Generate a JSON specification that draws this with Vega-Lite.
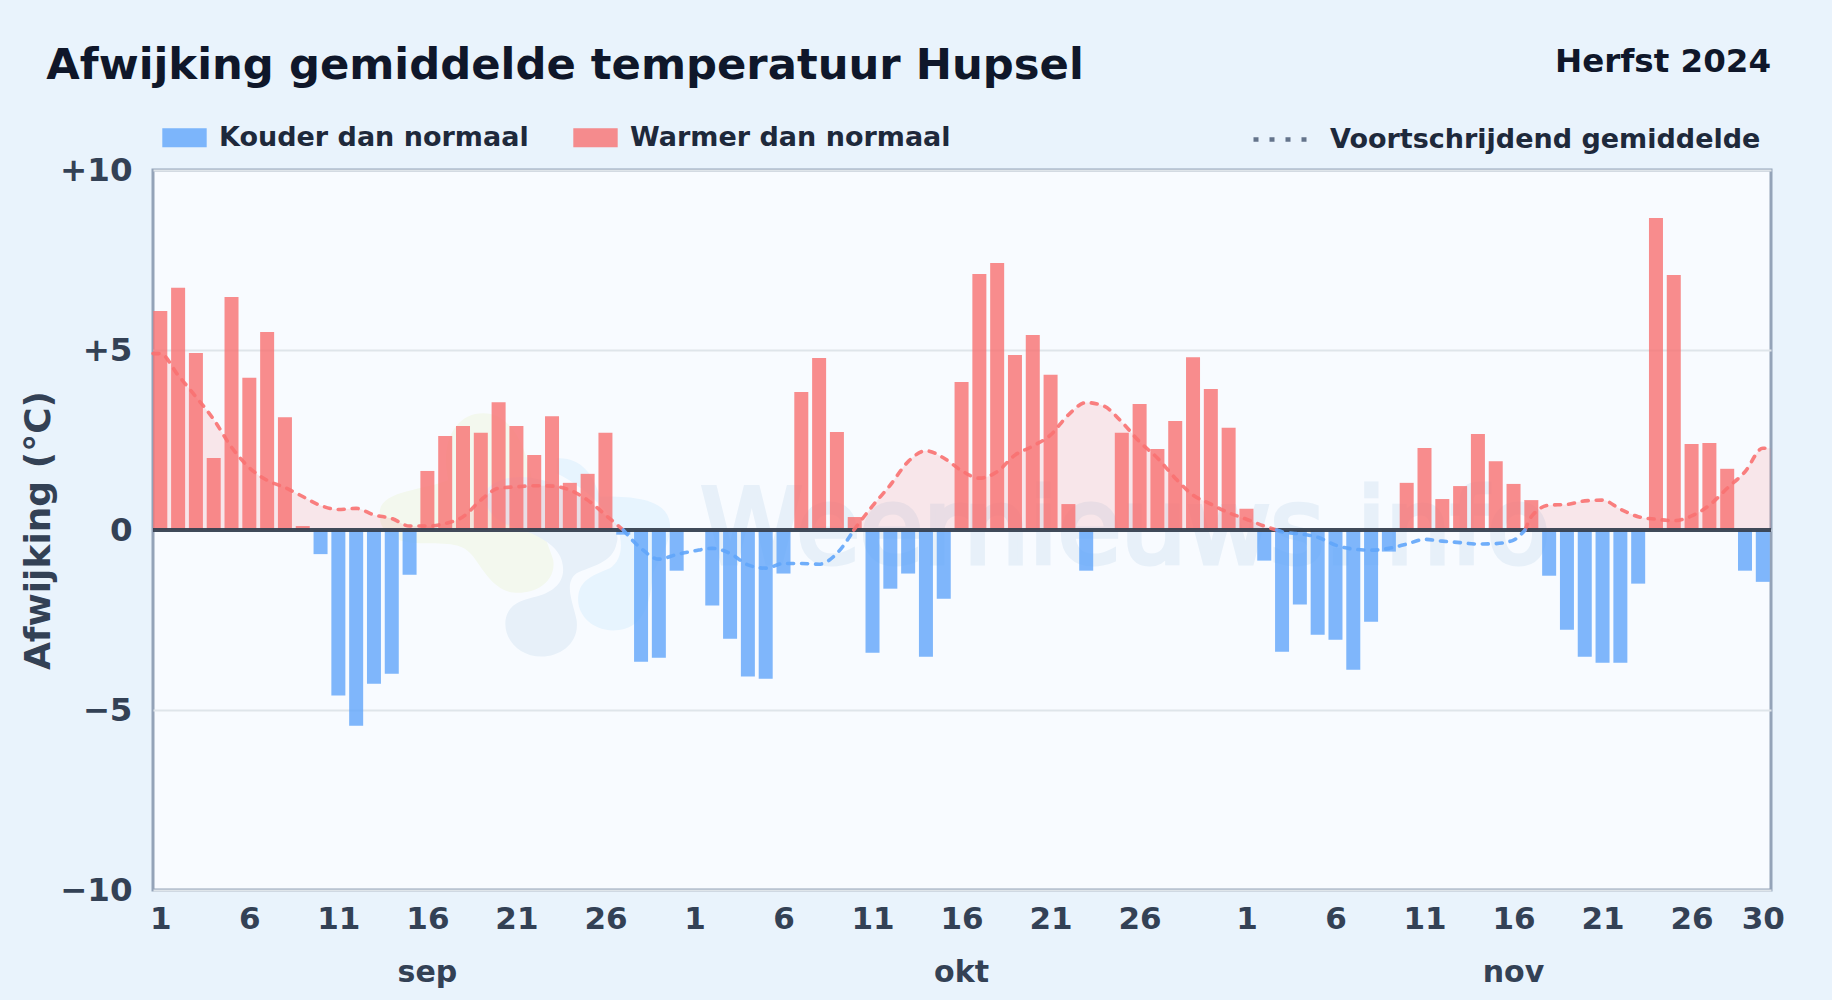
{
"$schema":"https://vega.github.io/schema/vega-lite/v6.json",
"autosize":{"type":"none"},
"padding":{"left":153,"top":170,"right":61,"bottom":110},
"width":1618,"height":720,
"background":"#e9f3fc",
"config":{"view":{"fill":"#f8fbff","stroke":"#94a3b8","strokeWidth":3},"font":"DejaVu Sans"},
"datasets":{
"bars":[
{"i":0,"v":6.08},{"i":1,"v":6.73},{"i":2,"v":4.92},{"i":3,"v":2.0},{"i":4,"v":6.47},{"i":5,"v":4.23},{"i":6,"v":5.5},{"i":7,"v":3.13},{"i":8,"v":0.11},{"i":9,"v":-0.67},
{"i":10,"v":-4.6},{"i":11,"v":-5.44},{"i":12,"v":-4.27},{"i":13,"v":-3.99},{"i":14,"v":-1.24},{"i":15,"v":1.64},{"i":16,"v":2.61},{"i":17,"v":2.89},{"i":18,"v":2.7},{"i":19,"v":3.55},
{"i":20,"v":2.89},{"i":21,"v":2.08},{"i":22,"v":3.16},{"i":23,"v":1.31},{"i":24,"v":1.56},{"i":25,"v":2.7},{"i":26,"v":-0.13},{"i":27,"v":-3.66},{"i":28,"v":-3.55},{"i":29,"v":-1.13},
{"i":31,"v":-2.1},{"i":32,"v":-3.02},{"i":33,"v":-4.07},{"i":34,"v":-4.13},{"i":35,"v":-1.21},{"i":36,"v":3.83},{"i":37,"v":4.78},{"i":38,"v":2.72},{"i":39,"v":0.36},
{"i":40,"v":-3.41},{"i":41,"v":-1.63},{"i":42,"v":-1.21},{"i":43,"v":-3.52},{"i":44,"v":-1.91},{"i":45,"v":4.11},{"i":46,"v":7.11},{"i":47,"v":7.42},{"i":48,"v":4.86},{"i":49,"v":5.42},
{"i":50,"v":4.31},{"i":51,"v":0.72},{"i":52,"v":-1.13},{"i":54,"v":2.7},{"i":55,"v":3.5},{"i":56,"v":2.25},{"i":57,"v":3.03},{"i":58,"v":4.8},{"i":59,"v":3.92},
{"i":60,"v":2.84},{"i":61,"v":0.59},{"i":62,"v":-0.85},{"i":63,"v":-3.38},{"i":64,"v":-2.07},{"i":65,"v":-2.91},{"i":66,"v":-3.05},{"i":67,"v":-3.88},{"i":68,"v":-2.55},{"i":69,"v":-0.6},
{"i":70,"v":1.31},{"i":71,"v":2.28},{"i":72,"v":0.86},{"i":73,"v":1.22},{"i":74,"v":2.67},{"i":75,"v":1.91},{"i":76,"v":1.28},{"i":77,"v":0.83},{"i":78,"v":-1.27},{"i":79,"v":-2.77},
{"i":80,"v":-3.52},{"i":81,"v":-3.69},{"i":82,"v":-3.69},{"i":83,"v":-1.49},{"i":84,"v":8.67},{"i":85,"v":7.08},{"i":86,"v":2.39},{"i":87,"v":2.42},{"i":88,"v":1.7},{"i":89,"v":-1.13},{"i":90,"v":-1.44}
],
"warm":[
{"x":-0.41,"y":4.9,"run":"A"},{"x":0,"y":4.9,"run":"A"},{"x":1,"y":4.3,"run":"A"},{"x":2,"y":3.7,"run":"A"},{"x":3,"y":3.07,"run":"A"},{"x":4,"y":2.3,"run":"A"},{"x":5,"y":1.73,"run":"A"},{"x":6,"y":1.38,"run":"A"},{"x":7,"y":1.18,"run":"A"},{"x":8,"y":0.93,"run":"A"},{"x":9,"y":0.68,"run":"A"},{"x":10,"y":0.57,"run":"A"},{"x":11,"y":0.6,"run":"A"},{"x":12,"y":0.42,"run":"A"},{"x":13,"y":0.32,"run":"A"},{"x":14,"y":0.11,"run":"A"},{"x":15,"y":0.11,"run":"A"},{"x":16,"y":0.18,"run":"A"},{"x":17,"y":0.37,"run":"A"},{"x":18,"y":0.83,"run":"A"},{"x":19,"y":1.16,"run":"A"},{"x":20,"y":1.2,"run":"A"},{"x":21,"y":1.23,"run":"A"},{"x":22,"y":1.22,"run":"A"},{"x":23,"y":1.11,"run":"A"},{"x":24,"y":0.83,"run":"A"},{"x":25,"y":0.42,"run":"A"},{"x":26,"y":0,"run":"A"},
{"x":38.95,"y":0,"run":"C"},{"x":40,"y":0.67,"run":"C"},{"x":41,"y":1.25,"run":"C"},{"x":42,"y":1.9,"run":"C"},{"x":43,"y":2.2,"run":"C"},{"x":44,"y":2.0,"run":"C"},{"x":45,"y":1.65,"run":"C"},{"x":46,"y":1.44,"run":"C"},{"x":47,"y":1.62,"run":"C"},{"x":48,"y":2.08,"run":"C"},{"x":49,"y":2.33,"run":"C"},{"x":50,"y":2.64,"run":"C"},{"x":51,"y":3.2,"run":"C"},{"x":52,"y":3.54,"run":"C"},{"x":53,"y":3.44,"run":"C"},{"x":54,"y":3.0,"run":"C"},{"x":55,"y":2.45,"run":"C"},{"x":56,"y":2.0,"run":"C"},{"x":57,"y":1.44,"run":"C"},{"x":58,"y":0.97,"run":"C"},{"x":59,"y":0.72,"run":"C"},{"x":60,"y":0.48,"run":"C"},{"x":61,"y":0.3,"run":"C"},{"x":62,"y":0.11,"run":"C"},{"x":62.7,"y":0,"run":"C"},
{"x":76.65,"y":0,"run":"E"},{"x":77,"y":0.37,"run":"E"},{"x":78,"y":0.69,"run":"E"},{"x":79,"y":0.71,"run":"E"},{"x":80,"y":0.81,"run":"E"},{"x":81,"y":0.83,"run":"E"},{"x":82,"y":0.58,"run":"E"},{"x":83,"y":0.37,"run":"E"},{"x":84,"y":0.3,"run":"E"},{"x":85,"y":0.26,"run":"E"},{"x":86,"y":0.39,"run":"E"},{"x":87,"y":0.69,"run":"E"},{"x":88,"y":1.16,"run":"E"},{"x":89,"y":1.62,"run":"E"},{"x":90,"y":2.27,"run":"E"},{"x":90.46,"y":2.27,"run":"E"}
],
"koud":[
{"x":26,"y":0,"run":"B"},{"x":27,"y":-0.51,"run":"B"},{"x":28,"y":-0.81,"run":"B"},{"x":29,"y":-0.68,"run":"B"},{"x":30,"y":-0.58,"run":"B"},{"x":31,"y":-0.51,"run":"B"},{"x":32,"y":-0.65,"run":"B"},{"x":33,"y":-0.97,"run":"B"},{"x":34,"y":-1.06,"run":"B"},{"x":35,"y":-0.93,"run":"B"},{"x":36,"y":-0.93,"run":"B"},{"x":37,"y":-0.95,"run":"B"},{"x":38,"y":-0.65,"run":"B"},{"x":38.95,"y":0,"run":"B"},
{"x":62.7,"y":0,"run":"D"},{"x":63,"y":-0.05,"run":"D"},{"x":64,"y":-0.11,"run":"D"},{"x":65,"y":-0.2,"run":"D"},{"x":66,"y":-0.42,"run":"D"},{"x":67,"y":-0.53,"run":"D"},{"x":68,"y":-0.56,"run":"D"},{"x":69,"y":-0.51,"run":"D"},{"x":70,"y":-0.39,"run":"D"},{"x":71,"y":-0.26,"run":"D"},{"x":72,"y":-0.31,"run":"D"},{"x":73,"y":-0.35,"run":"D"},{"x":74,"y":-0.39,"run":"D"},{"x":75,"y":-0.38,"run":"D"},{"x":76,"y":-0.28,"run":"D"},{"x":76.65,"y":0,"run":"D"}
]
},
"encoding":{
"x":{"field":"x","type":"quantitative","title":null,"scale":{"domain":[-0.41,90.46],"nice":false,"zero":false,"padding":0},
 "axis":{"values":[0,5,10,15,20,25,30,35,40,45,50,55,61,66,71,76,81,86,90],"labelExpr":"datum.value<30?datum.value+1:(datum.value<61?datum.value-29:datum.value-60)","domain":false,"ticks":false,"grid":false,"labelFont":"DejaVu Sans","labelFontSize":31,"labelFontWeight":"bold","labelColor":"#334155","labelPadding":14,"labelOverlap":false,"labelFlush":false,"labelBound":false}},
"y":{"field":"y","type":"quantitative","title":"Afwijking (°C)","scale":{"domain":[-10,10],"nice":false},
 "axis":{"values":[-10,-5,0,5,10],"labelExpr":"datum.value>0?'+'+datum.value:(datum.value<0?'−'+abs(datum.value):'0')","domain":false,"ticks":false,"grid":true,"gridColor":"#dfe5ea","gridWidth":2,"labelFont":"DejaVu Sans","labelFontSize":32.5,"labelFontWeight":"bold","labelColor":"#334155","labelPadding":21,"titleFont":"DejaVu Sans","titleFontSize":36,"titleFontWeight":"bold","titleColor":"#334155","titleX":-96,"titleY":360,"labelOverlap":false,"labelBound":false}}
},
"layer":[
{"data":{"values":[{"x":20.57,"y":-0.09}]},"mark":{"type":"point","filled":true,"size":111111,"opacity":1,"color":"#f3f8ee","shape":"M-.88,-.14 C-.86,-.26 -.6,-.26 -.47,-.32 C-.52,-.56 -.42,-.72 -.26,-.72 C-.1,-.72 0,-.54 .04,-.28 C.04,-.14 .12,.04 .16,.16 C.18,.3 .04,.37 -.08,.356 C-.2,.34 -.26,.22 -.32,.14 C-.38,.06 -.46,.06 -.64,.06 C-.78,.06 -.9,0 -.88,-.14 Z"}},
{"data":{"values":[{"x":20.57,"y":-0.09}]},"mark":{"type":"point","filled":true,"size":111111,"opacity":1,"color":"#e7f4fe","shape":"M.18,-.45 C.32,-.46 .4,-.36 .44,-.22 C.6,-.22 .84,-.22 .86,-.06 C.87,.06 .8,.14 .76,.24 C.74,.4 .72,.58 .52,.584 C.38,.58 .3,.48 .31,.38 C.32,.28 .4,.25 .5,.21 C.58,.16 .58,.04 .54,-.04 C.44,-.2 .3,-.3 .18,-.36 Z"}},
{"data":{"values":[{"x":20.57,"y":-0.09}]},"mark":{"type":"point","filled":true,"size":111111,"opacity":1,"color":"#e7f0f9","shape":"M-.24,-.26 C-.16,-.36 .04,-.36 .2,-.28 C.4,-.2 .58,-.04 .54,.06 C.52,.18 .38,.2 .3,.24 C.22,.3 .28,.42 .3,.52 C.32,.66 .2,.74 .09,.74 C-.04,.74 -.14,.64 -.126,.52 C-.11,.42 -.02,.4 .06,.38 C.2,.34 .24,.26 .21,.16 C.18,.06 .04,0 -.08,-.04 C-.18,-.06 -.28,-.16 -.24,-.26 Z"}},
{"data":{"values":[{"x":54.2,"y":-0.92,"t":"Weernieuws.info"}]},"mark":{"type":"text","font":"DejaVu Sans","fontSize":103,"align":"center","baseline":"alphabetic","color":"#e7f0f9","stroke":"#e7f0f9","strokeWidth":5},"encoding":{"text":{"field":"t"}}},
{"data":{"name":"warm"},"mark":{"type":"area","interpolate":"monotone","color":"#f87171","opacity":0.15},"encoding":{"detail":{"field":"run"},"y2":{"datum":0}}},
{"data":{"name":"bars"},"transform":[{"calculate":"datum.v<0?'Kouder dan normaal':'Warmer dan normaal'","as":"soort"}],"mark":{"type":"bar","orient":"vertical","size":14,"opacity":0.8},
 "encoding":{"x":{"field":"i","type":"quantitative","scale":{"domain":[-0.41,90.46],"nice":false,"zero":false,"padding":0}},"y":{"field":"v","type":"quantitative"},
 "color":{"field":"soort","type":"nominal","scale":{"domain":["Kouder dan normaal","Warmer dan normaal"],"range":["#60a5fa","#f87171"]},
  "legend":{"title":null,"orient":"none","direction":"horizontal","legendX":9,"legendY":-55,"padding":0,"symbolType":"M-1,-.43H1V.43H-1Z","symbolSize":1971,"symbolOpacity":0.8,"symbolStrokeWidth":0,"labelFont":"DejaVu Sans","labelFontSize":27,"labelFontWeight":"bold","labelColor":"#1e293b","labelOffset":12,"labelLimit":600,"columnPadding":44}}}},
{"data":{"values":[{"x":-0.41,"xe":90.46,"y":0}]},"mark":{"type":"rule","color":"#374151","strokeWidth":4,"opacity":0.95},"encoding":{"x2":{"field":"xe"}}},
{"data":{"name":"warm"},"mark":{"type":"line","interpolate":"monotone","color":"#f87171","strokeWidth":3.6,"strokeDash":[6,8],"strokeCap":"round","opacity":0.9},"encoding":{"detail":{"field":"run"}}},
{"data":{"name":"koud"},"mark":{"type":"line","interpolate":"monotone","color":"#60a5fa","strokeWidth":3.6,"strokeDash":[6,8],"strokeCap":"round","opacity":0.9},"encoding":{"detail":{"field":"run"}}},
{"data":{"values":[{"x":0,"y":0,"n":"Voortschrijdend gemiddelde"}]},"mark":{"type":"line"},
 "encoding":{"strokeDash":{"field":"n","type":"nominal","scale":{"domain":["Voortschrijdend gemiddelde"],"range":[[5,11]]},
  "legend":{"title":null,"orient":"none","direction":"horizontal","legendX":1098,"legendY":-60,"padding":0,"symbolType":"stroke","symbolSize":2916,"symbolStrokeColor":"#64748b","symbolStrokeWidth":4.5,"labelFont":"DejaVu Sans","labelFontSize":27,"labelFontWeight":"bold","labelColor":"#1e293b","labelOffset":20,"labelLimit":600}}}},
{"data":{"values":[{"x":-6.4,"y":12.52,"t":"Afwijking gemiddelde temperatuur Hupsel"}]},"mark":{"type":"text","font":"DejaVu Sans","fontSize":43.3,"fontWeight":"bold","align":"left","baseline":"alphabetic","color":"#0f172a"},"encoding":{"text":{"field":"t"}}},
{"data":{"values":[{"x":90.46,"y":13.0,"t":"Herfst 2024"}]},"mark":{"type":"text","font":"DejaVu Sans","fontSize":32.5,"fontWeight":"bold","align":"right","baseline":"middle","color":"#0f172a"},"encoding":{"text":{"field":"t"}}},
{"data":{"values":[{"x":15,"y":-12.31,"t":"sep"},{"x":45,"y":-12.31,"t":"okt"},{"x":76,"y":-12.31,"t":"nov"}]},"mark":{"type":"text","font":"DejaVu Sans","fontSize":30,"fontWeight":"bold","align":"center","baseline":"middle","color":"#334155"},"encoding":{"text":{"field":"t"}}}
]
}
